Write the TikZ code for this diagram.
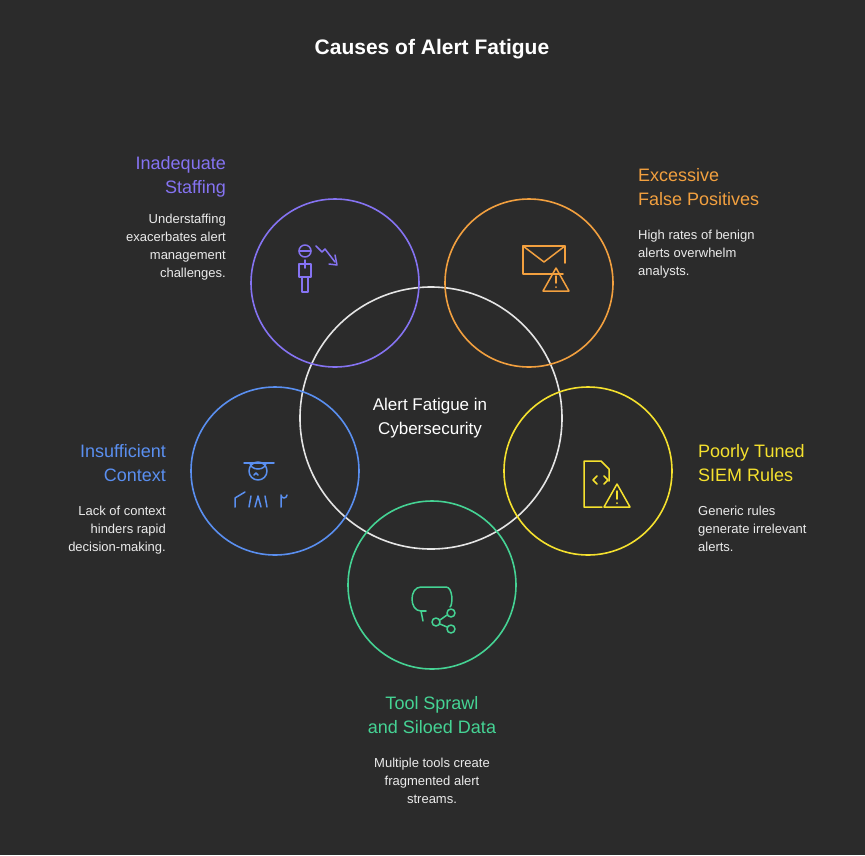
\documentclass[tikz,border=0pt]{standalone}
\usepackage{fontspec}
\setmainfont{Liberation Sans}
\begin{document}
\begin{tikzpicture}[x=1pt,y=-1pt,
  ring/.style={line width=1.6pt},
  ttl/.style={font=\fontsize{18}{24}\selectfont,inner sep=0},
  dsc/.style={font=\fontsize{13}{18}\selectfont,text=white!92!black,inner sep=0},
  ic/.style={line width=1.5pt,line cap=round,line join=round}]
\definecolor{bg}{HTML}{2B2B2B}
\definecolor{cP}{HTML}{8573F2}
\definecolor{cO}{HTML}{F2A03F}
\definecolor{cB}{HTML}{5A8FF0}
\definecolor{cY}{HTML}{F5E12E}
\definecolor{cG}{HTML}{45D394}
\fill[bg] (0,0) rectangle (865,855);
\useasboundingbox (0,0) rectangle (865,855);
\node[font=\bfseries\fontsize{21}{24}\selectfont,text=white] (title) at (432,49) {Causes of Alert Fatigue};
\draw[ring,white!90!black] (431,418) circle (131);
\draw[ring,cP] (335,283) circle (84);
\draw[ring,cO] (529,283) circle (84);
\draw[ring,cB] (275,471) circle (84);
\draw[ring,cY] (588,471) circle (84);
\draw[ring,cG] (432,585) circle (84);
\node[text=white,align=center,font=\fontsize{17}{24}\selectfont] (center) at (430,418) {Alert Fatigue in\\Cybersecurity};
% labels
\node[ttl,text=cP,align=right,anchor=north east] (tP) at (226,156) {Inadequate\\Staffing};
\node[dsc,align=right,anchor=north east] (dP) at (226,214) {Understaffing\\exacerbates alert\\management\\challenges.};
\node[ttl,text=cO,align=left,anchor=north west] (tO) at (638,168) {Excessive\\False Positives};
\node[dsc,align=left,anchor=north west] (dO) at (638,230) {High rates of benign\\alerts overwhelm\\analysts.};
\node[ttl,text=cB,align=right,anchor=north east] (tB) at (166,444) {Insufficient\\Context};
\node[dsc,align=right,anchor=north east] (dB) at (166,506) {Lack of context\\hinders rapid\\decision-making.};
\node[ttl,text=cY,align=left,anchor=north west] (tY) at (698,444) {Poorly Tuned\\SIEM Rules};
\node[dsc,align=left,anchor=north west] (dY) at (698,506) {Generic rules\\generate irrelevant\\alerts.};
\node[ttl,text=cG,align=center,anchor=north] (tG) at (432,696) {Tool Sprawl\\and Siloed Data};
\node[dsc,align=center,anchor=north] (dG) at (432,758) {Multiple tools create\\fragmented alert\\streams.};
% icons: purple person with down arrow
\begin{scope}[ic,cP]
\draw (305,251) circle (6);
\draw (299,251)--(311,251);
\draw (299,264) rectangle (311,277);
\draw (302,277)--(302,292)--(308,292)--(308,277);
\draw (305,260)--(305,268);
\draw (316,246)--(322,252)--(325,249)--(335,262);
\draw (335,255)--(337,265)--(329,264);
\end{scope}
% orange mail with warning
\begin{scope}[ic,cO]
\draw (563,274)--(523,274)--(523,246)--(565,246)--(565,263);
\draw (523,246)--(544,262)--(565,246);
\draw (556,268)--(569,291)--(543,291)--cycle;
\draw (556,276)--(556,283);
\fill (556,287) circle (1);
\end{scope}
% blue person with hat
\begin{scope}[ic,cB]
\draw (258,471) circle (9);
\draw (244,463)--(274,463);
\draw (250,463) arc (180:0:8 and 6);
\draw (254,475)--(256,473)--(258,475);
\draw (235,507)--(235,498)--(245,492);
\draw (281,507)--(281,495) arc (180:0:3);
\draw (255,507)--(258,496)--(261,507);
\draw (249,507)--(251,496);
\draw (267,507)--(265,496);
\end{scope}
% yellow file with code and warning
\begin{scope}[ic,cY]
\draw (602,507)--(584,507)--(584,461)--(601,461)--(609,469)--(609,481);
\draw (597,476)--(593,480)--(597,484);
\draw (604,476)--(608,480)--(604,484);
\draw (617,484)--(630,507)--(604,507)--cycle;
\draw (617,491)--(617,499);
\fill (617,503) circle (1);
\end{scope}
% green chat with share
\begin{scope}[ic,cG]
\draw (423,621)--(421,611) .. controls (409,611) and (409,587) .. (421,587)--(446,587) .. controls (453,587) and (453,605) .. (450,607);
\draw (421,611)--(426,611);
\draw (451,613) circle (4);
\draw (436,622) circle (4);
\draw (451,629) circle (4);
\draw (440,620)--(447,615);
\draw (440,624)--(447,627);
\end{scope}
\end{tikzpicture}
\end{document}
